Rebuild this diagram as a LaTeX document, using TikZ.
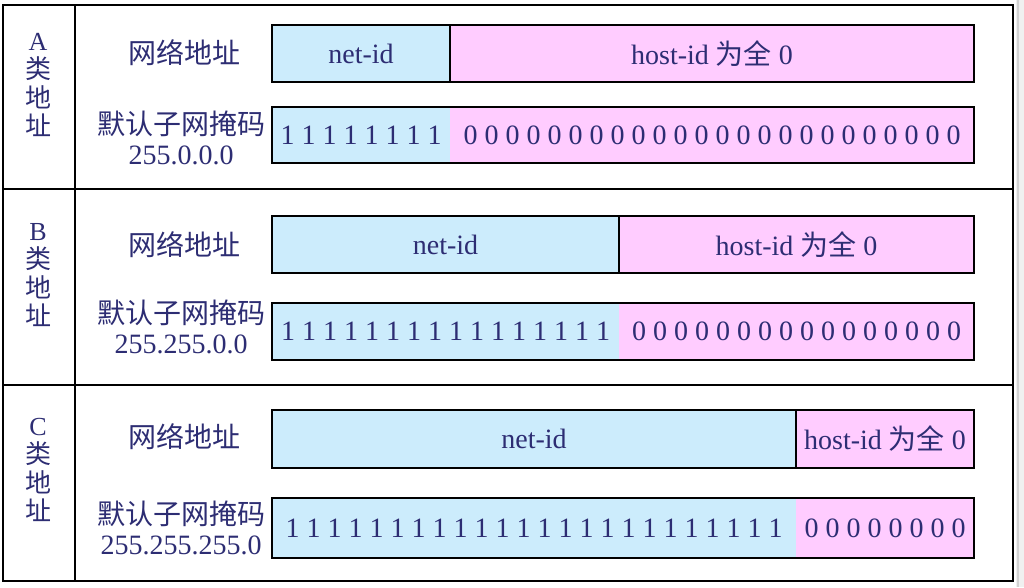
\documentclass[tikz,border=0pt]{standalone}
\usepackage{fontspec}
\setmainfont{Liberation Serif}
\newfontfamily\cjk{Noto Sans CJK SC}
\definecolor{ink}{RGB}{45,45,115}
\definecolor{netblue}{RGB}{204,236,252}
\definecolor{hostpink}{RGB}{255,204,255}
\begin{document}
\begin{tikzpicture}[x=1pt,y=-1pt,
  cell/.style={anchor=north west, inner sep=0pt, outer sep=0pt, text=ink,
    font=\fontsize{28}{30}\selectfont},
  netcell/.style={cell, fill=netblue, draw=black, line width=2pt},
  hostcell/.style={cell, fill=hostpink, draw=black, line width=2pt},
  maskblue/.style={cell, fill=netblue},
  maskpink/.style={cell, fill=hostpink},
  maskframe/.style={draw=black, line width=2pt},
  lab/.style={text=ink, align=center, inner sep=0pt, font=\fontsize{28}{30}\selectfont},
  cls/.style={text=ink, align=center, inner sep=0pt, font=\fontsize{26}{28.5}\selectfont},
  frame/.style={draw=black, line width=2pt}]
\useasboundingbox (0,0) rectangle (1024,587);
\fill[white] (0,0) rectangle (1024,587);
\fill[gray!12] (1016,0) rectangle (1024,587);
\draw[gray!35, line width=1.5pt] (1018,0) -- (1018,587);
% table frame
\draw[frame] (3,5) rectangle (1013,581);
\draw[frame] (75,5) -- (75,581);
\draw[frame] (3,189) -- (1013,189);
\draw[frame] (3,385) -- (1013,385);
% class labels
\node[cls] (clsA) at (38,85) {A\\{\cjk 类}\\{\cjk 地}\\{\cjk 址}};
\node[cls] (clsB) at (38,275) {B\\{\cjk 类}\\{\cjk 地}\\{\cjk 址}};
\node[cls] (clsC) at (38,470) {C\\{\cjk 类}\\{\cjk 地}\\{\cjk 址}};
% row labels
\node[lab] (naA) at (184,53) {\cjk 网络地址};
\node[lab] (mkA) at (181,138) {{\cjk 默认子网掩码}\\255.0.0.0};
\node[lab] (naB) at (184,245) {\cjk 网络地址};
\node[lab] (mkB) at (181,327) {{\cjk 默认子网掩码}\\255.255.0.0};
\node[lab] (naC) at (184,437) {\cjk 网络地址};
\node[lab] (mkC) at (181,528) {{\cjk 默认子网掩码}\\255.255.255.0};
% class A
\node[netcell, minimum width=178pt, minimum height=57pt] (netA) at (272,25) {net-id};
\node[hostcell, minimum width=524pt, minimum height=57pt] (hostA) at (450,25) {host-id {\cjk 为全} 0};
\node[maskblue, minimum width=178pt, minimum height=56pt] (onesA) at (272,107) {1 1 1 1 1 1 1 1};
\node[maskpink, minimum width=524pt, minimum height=56pt] (zerosA) at (450,107) {0 0 0 0 0 0 0 0 0 0 0 0 0 0 0 0 0 0 0 0 0 0 0 0};
\draw[maskframe] (onesA.north west) rectangle (zerosA.south east);
% class B
\node[netcell, minimum width=347pt, minimum height=57pt] (netB) at (272,216) {net-id};
\node[hostcell, minimum width=355pt, minimum height=57pt] (hostB) at (619,216) {host-id {\cjk 为全} 0};
\node[maskblue, minimum width=347pt, minimum height=57pt] (onesB) at (272,303) {1 1 1 1 1 1 1 1 1 1 1 1 1 1 1 1};
\node[maskpink, minimum width=355pt, minimum height=57pt] (zerosB) at (619,303) {0 0 0 0 0 0 0 0 0 0 0 0 0 0 0 0};
\draw[maskframe] (onesB.north west) rectangle (zerosB.south east);
% class C
\node[netcell, minimum width=524pt, minimum height=58pt] (netC) at (272,410) {net-id};
\node[hostcell, minimum width=178pt, minimum height=58pt] (hostC) at (796,410) {host-id {\cjk 为全} 0};
\node[maskblue, minimum width=524pt, minimum height=60pt] (onesC) at (272,498) {1 1 1 1 1 1 1 1 1 1 1 1 1 1 1 1 1 1 1 1 1 1 1 1};
\node[maskpink, minimum width=178pt, minimum height=60pt] (zerosC) at (796,498) {0 0 0 0 0 0 0 0};
\draw[maskframe] (onesC.north west) rectangle (zerosC.south east);
\end{tikzpicture}
\end{document}
